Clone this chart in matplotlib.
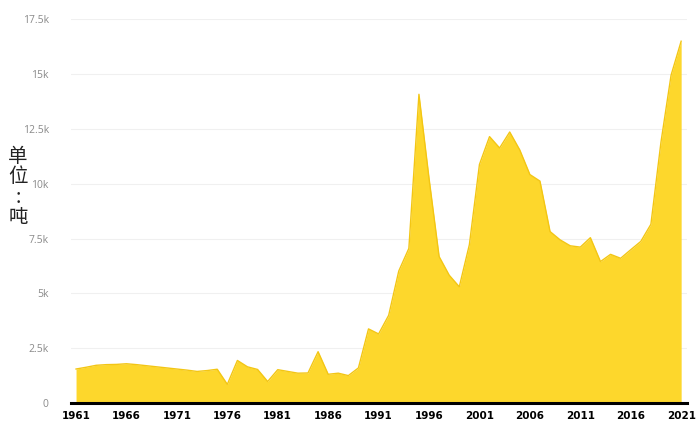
import numpy as np
import matplotlib
matplotlib.use('Agg')
import matplotlib.pyplot as plt
from matplotlib.ticker import FuncFormatter

plt.rcParams['font.family'] = ['DejaVu Sans']

years = np.arange(1961, 2022)
tons = [1550, 1630, 1720, 1750, 1760, 1790, 1750, 1700, 1650, 1600,
        1550, 1500, 1440, 1480, 1540, 850, 1940, 1650, 1530, 980,
        1520, 1440, 1360, 1370, 2340, 1310, 1360, 1250, 1600, 3380,
        3150, 4000, 6020, 7050, 14080, 10250, 6680, 5830, 5300, 7220,
        10880, 12150, 11630, 12360, 11540, 10420, 10120, 7820, 7440, 7170,
        7110, 7540, 6450, 6780, 6600, 6990, 7370, 8150, 11900, 14950,
        16500]
yticks = [0, 2500, 5000, 7500, 10000, 12500, 15000, 17500]
xticks = np.arange(1961, 2022, 5)
ylabel = '单\n位\n:\n吨'

fig = plt.figure(figsize=(6.99, 4.28), dpi=100)
ax = fig.add_axes([71/699, 25/428, 615.7/699, 383.7/428])

ax.fill_between(years, tons, 0, color='#fdd72c', lw=0, zorder=2)
ax.plot(years, tons, color='#f3c614', lw=1.0, zorder=3)

ax.set_xlim(1960.5, 2021.55)
ax.set_ylim(0, 17500)
ax.set_yticks(yticks)
ax.set_xticks(xticks)
ax.yaxis.set_major_formatter(FuncFormatter(lambda v, p: '0' if v == 0 else ('%gk' % (v/1000))))
ax.grid(axis='y', color='#f0f0f0', lw=0.8, zorder=0)
for s in ['top', 'right', 'left']:
    ax.spines[s].set_visible(False)
ax.spines['bottom'].set_linewidth(2.2)
ax.spines['bottom'].set_color('black')
ax.spines['bottom'].set_zorder(4)
ax.tick_params(axis='y', length=0, pad=16, labelsize=7.5, labelcolor='#8a8a8a')
ax.tick_params(axis='x', length=0, pad=6, labelsize=7.5)
for t in ax.get_yticklabels():
    t.set_family('Open Sans')
for t in ax.get_xticklabels():
    t.set_fontweight('bold')

fig.text(18/699, 1 - 187/428, ylabel, ha='center', va='center', fontsize=14,
         family=['Noto Sans CJK SC', 'DejaVu Sans'], linespacing=0.95, color='#222222')

plt.savefig('out.png', dpi=100)
